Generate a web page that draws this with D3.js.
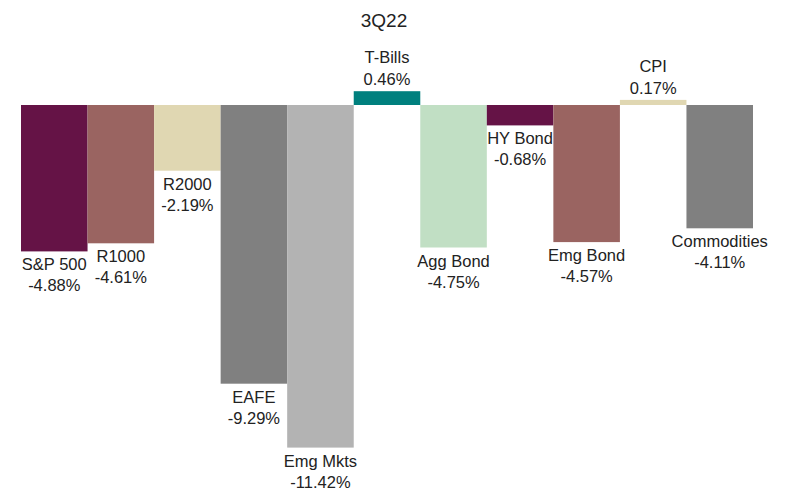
<!DOCTYPE html>
<html>
<head>
<meta charset="utf-8">
<script src="https://cdn.jsdelivr.net/npm/d3@7"></script>
<style>
html,body{margin:0;padding:0;background:#fff;}
svg{display:block;}
</style>
</head>
<body>
<svg id="chart" width="787" height="492"></svg>
<script>
const title = "3Q22";
const categories = ["S&P 500","R1000","R2000","EAFE","Emg Mkts","T-Bills","Agg Bond","HY Bond","Emg Bond","CPI","Commodities"];
const values = [-4.88,-4.61,-2.19,-9.29,-11.42,0.46,-4.75,-0.68,-4.57,0.17,-4.11];
const colors = ["#651346","#9A6461","#E0D7B2","#808080","#B3B3B3","#00807E","#C1DFC4","#651346","#9A6461","#E0D7B2","#808080"];

const svg = d3.select("#chart");
const font = "'Liberation Sans', Arial, sans-serif";

const x = d3.scaleBand().domain(categories).range([21, 753]).padding(0);
const y = d3.scaleLinear().domain([-12, 1]).range([465, 75]);

svg.append("text")
  .attr("x", 384).attr("y", 27)
  .attr("text-anchor", "middle")
  .attr("font-family", font).attr("font-size", 19)
  .attr("fill", "#222")
  .text(title);

const data = categories.map((c, i) => ({c, v: values[i], col: colors[i]}));

svg.append("g").selectAll("rect").data(data).join("rect")
  .attr("x", d => x(d.c))
  .attr("width", x.bandwidth())
  .attr("y", d => y(Math.max(0, d.v)))
  .attr("height", d => Math.abs(y(d.v) - y(0)))
  .attr("fill", d => d.col);

const fmt = v => v.toFixed(2) + "%";
const lbl = svg.append("g").attr("font-family", font).attr("font-size", 16.5).attr("fill", "#222").attr("text-anchor", "middle");
data.forEach(d => {
  const cx = x(d.c) + x.bandwidth() / 2;
  let y1, y2;
  if (d.v < 0) { y1 = y(d.v) + 19; y2 = y1 + 21; }
  else { y2 = y(d.v) - 6; y1 = y2 - 22; }
  lbl.append("text").attr("x", cx).attr("y", y1).text(d.c);
  lbl.append("text").attr("x", cx).attr("y", y2).text(fmt(d.v));
});
</script>
</body>
</html>
